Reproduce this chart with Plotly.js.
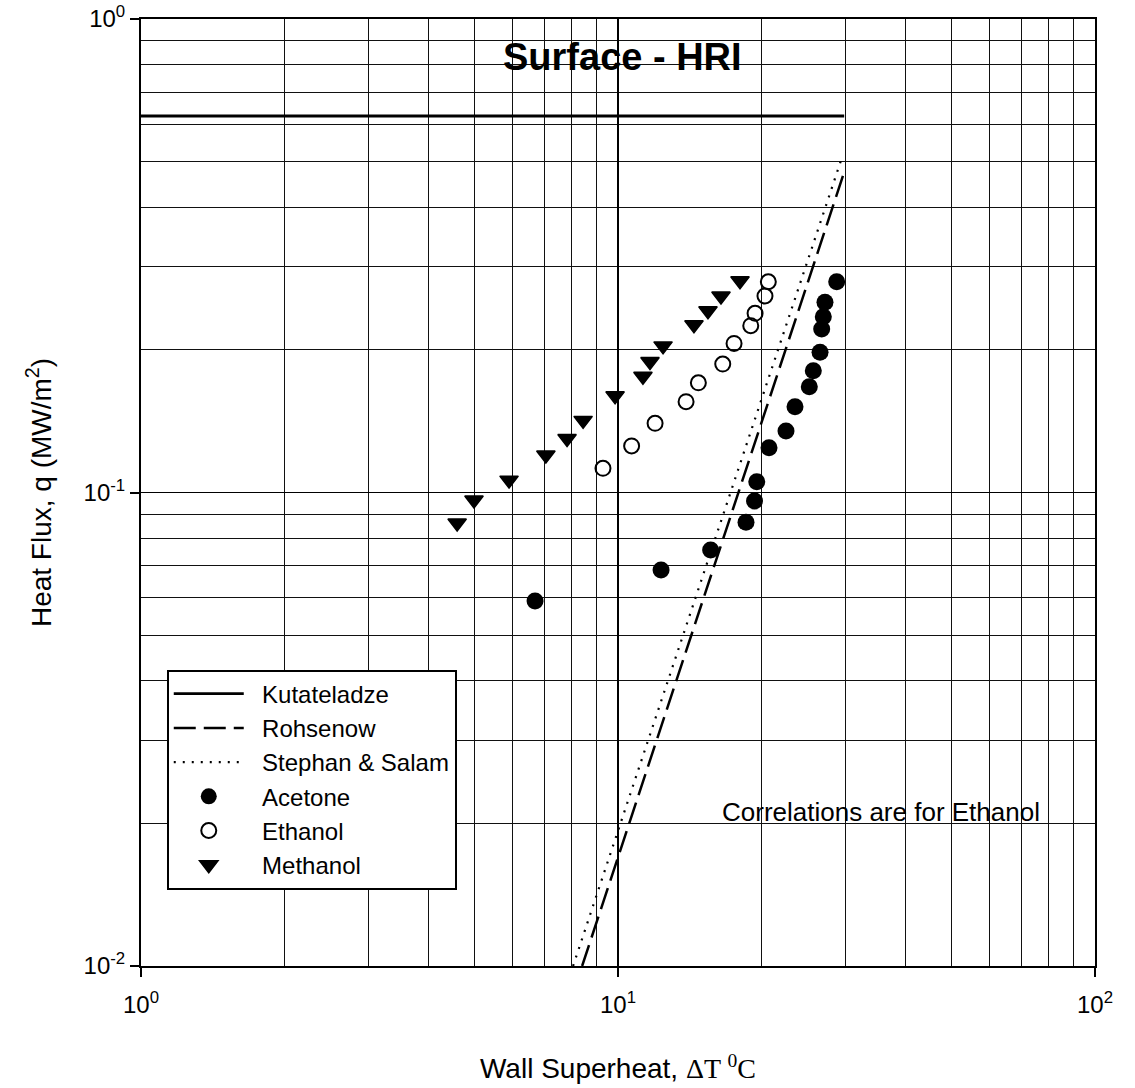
<!DOCTYPE html>
<html>
<head>
<meta charset="utf-8">
<script src="https://cdn.plot.ly/plotly-3.0.1.min.js"></script>
<style>html,body{margin:0;padding:0;background:#fff}</style>
</head>
<body>
<div id="chart" style="width:1135px;height:1088px"></div>
<script>
// Pool boiling on the HRI surface: wall superheat (°C) vs heat flux (MW/m²)
const acetoneDT = [6.70, 12.31, 15.64, 18.55, 19.33, 19.54, 20.73, 22.50, 23.50, 25.18, 25.67, 26.52, 26.73, 26.94, 27.16, 28.74];
const acetoneQ  = [0.0590, 0.0686, 0.0756, 0.0865, 0.0959, 0.1054, 0.1243, 0.1349, 0.1518, 0.1673, 0.1808, 0.1977, 0.2215, 0.2351, 0.2521, 0.2787];

const ethanolDT = [9.30, 10.68, 11.96, 13.89, 14.74, 16.58, 17.51, 18.98, 19.38, 20.33, 20.66];
const ethanolQ  = [0.1125, 0.1254, 0.1400, 0.1555, 0.1705, 0.1867, 0.2065, 0.2251, 0.2390, 0.2600, 0.2787];

const methanolDT = [4.60, 4.99, 5.91, 7.06, 7.82, 8.45, 9.86, 11.28, 11.67, 12.43, 14.43, 15.44, 16.44, 18.02];
const methanolQ  = [0.0862, 0.0964, 0.1062, 0.1200, 0.1300, 0.1420, 0.1600, 0.1760, 0.1890, 0.2040, 0.2260, 0.2420, 0.2600, 0.2800];

// Correlation predictions for ethanol (end points of each straight log-log segment)
const kutateladzeDT = [1, 29.8];
const kutateladzeQ  = [0.624, 0.624];
const rohsenowDT = [8.41, 29.8];
const rohsenowQ  = [0.01, 0.475];
const stephanDT = [8.05, 29.5];
const stephanQ  = [0.01, 0.511];

// Axis ticks
const xMajor = [1, 10, 100];
const xMajorText = ['10<sup>0</sup>', '10<sup>1</sup>', '10<sup>2</sup>'];
const xMinor = [2, 3, 4, 5, 6, 7, 8, 9, 20, 30, 40, 50, 60, 70, 80, 90];
const yMajor = [0.01, 0.1, 1];
const yMajorText = ['10<sup>-2</sup>', '10<sup>-1</sup>', '10<sup>0</sup>'];
const yMinor = [0.02, 0.03, 0.04, 0.05, 0.06, 0.07, 0.08, 0.09, 0.2, 0.3, 0.4, 0.5, 0.6, 0.7, 0.8, 0.9];

const FONT = 'Liberation Sans, Arial, Helvetica, sans-serif';
const PAD = '\u00a0\u00a0';   // gap between legend sample and its label

const traces = [
  {x: kutateladzeDT, y: kutateladzeQ, name: PAD + 'Kutateladze', mode: 'lines',
   line: {color: '#000', width: 2.8}},
  {x: rohsenowDT, y: rohsenowQ, name: PAD + 'Rohsenow', mode: 'lines',
   line: {color: '#000', width: 2.5, dash: '22px,8px'}},
  {x: stephanDT, y: stephanQ, name: PAD + 'Stephan & Salam', mode: 'lines',
   line: {color: '#000', width: 2.2, dash: '2px,7px'}},
  {x: acetoneDT, y: acetoneQ, name: PAD + 'Acetone', mode: 'markers',
   marker: {symbol: 'circle', size: 17, color: '#000'}},
  {x: ethanolDT, y: ethanolQ, name: PAD + 'Ethanol', mode: 'markers',
   marker: {symbol: 'circle-open', size: 15, color: '#000', line: {width: 2, color: '#000'}}},
  {x: methanolDT, y: methanolQ, name: PAD + 'Methanol', mode: 'markers',
   marker: {symbol: 'triangle-down', size: 16, color: '#000', line: {width: 1.5, color: '#000'}}}
];

const axisCommon = {
  type: 'log',
  showline: true, mirror: true, linecolor: '#000', linewidth: 2,
  ticks: 'outside', ticklen: 9, tickwidth: 2, tickcolor: '#000',
  tickmode: 'array',
  showgrid: true, gridcolor: '#000', gridwidth: 1.5,
  zeroline: false,
  tickfont: {family: FONT, size: 24, color: '#000'}
};

const layout = {
  width: 1135, height: 1088,
  margin: {l: 141, r: 40, t: 19, b: 122},
  paper_bgcolor: '#fff', plot_bgcolor: '#fff',
  font: {family: FONT, color: '#000'},
  showlegend: true,
  xaxis: Object.assign({}, axisCommon, {
    range: [0, 2],
    tickvals: xMajor, ticktext: xMajorText,
    ticklabelstandoff: 7,
    minor: {tickmode: 'array', tickvals: xMinor, showgrid: true, gridcolor: '#111', gridwidth: 1, ticks: ''},
    title: {text: 'Wall Superheat, <span style="font-family:Liberation Serif, Times New Roman, serif">ΔT <sup>0</sup>C</span>',
            font: {family: FONT, size: 28, color: '#000'}, standoff: 42}
  }),
  yaxis: Object.assign({}, axisCommon, {
    range: [-2, 0],
    tickvals: yMajor, ticktext: yMajorText,
    minor: {tickmode: 'array', tickvals: yMinor, showgrid: true, gridcolor: '#111', gridwidth: 1, ticks: ''},
    title: {text: 'Heat Flux, q (MW/m<sup>2</sup>)',
            font: {family: FONT, size: 28, color: '#000'}, standoff: 24}
  }),
  legend: {
    x: 0.027, y: 0.313, xanchor: 'left', yanchor: 'top',
    bgcolor: '#fff', bordercolor: '#000', borderwidth: 2,
    font: {family: FONT, size: 24, color: '#000'},
    itemwidth: 70, tracegroupgap: 0
  },
  annotations: [
    {text: '<b>Surface - HRI</b>', xref: 'paper', yref: 'paper', x: 0.505, y: 0.960,
     xanchor: 'center', yanchor: 'middle', showarrow: false,
     font: {family: FONT, size: 38, color: '#000'}},
    {text: 'Correlations are for Ethanol', xref: 'paper', yref: 'paper', x: 0.607, y: 0.163,
     xanchor: 'left', yanchor: 'middle', showarrow: false,
     font: {family: FONT, size: 26, color: '#000'}}
  ]
};

Plotly.newPlot('chart', traces, layout, {displayModeBar: false, staticPlot: true});
</script>
</body>
</html>
